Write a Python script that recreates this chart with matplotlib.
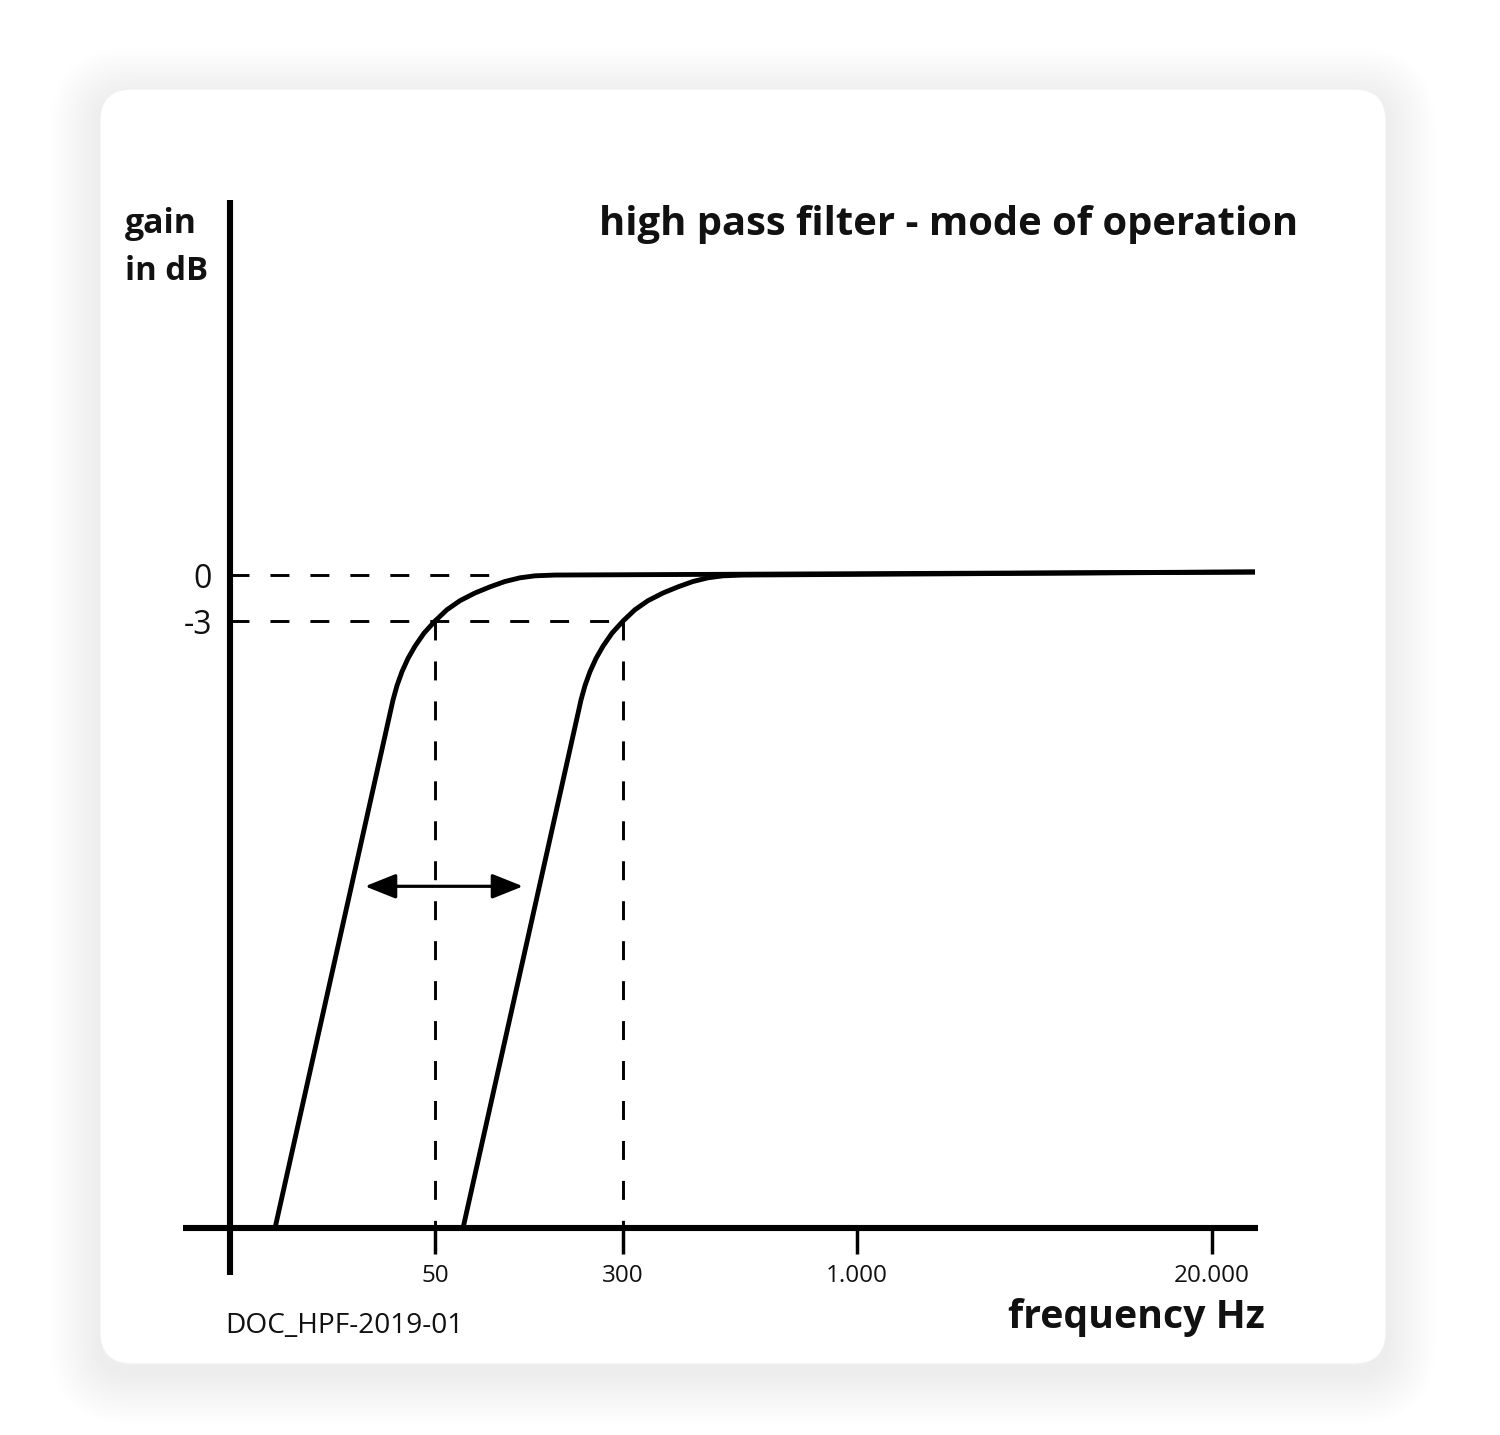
import matplotlib
matplotlib.use("Agg")
import matplotlib.pyplot as plt
from matplotlib.patches import FancyBboxPatch, FancyArrowPatch

plt.rcParams['font.family'] = ['Open Sans', 'DejaVu Sans']

# ---------------- data (schematic positions) ----------------
freq_labels = ["50", "300", "1.000", "20.000"]
freq_pos = [20.5, 39.3, 62.7, 98.2]
gain_ticks = [0, -3]
gain_labels = ["0", "-3"]
cutoff_pos = [20.5, 39.3]          # -3 dB points of the two curves
cutoff_gain = -3
zero_line_end = 26.0               # where the 0 dB guide meets the first curve
base_gain = -42.6                  # gain at the frequency axis

hpf50_x = [4.5, 16.3, 16.7, 17.2, 17.8, 18.5, 19.4, 20.5, 21.7, 23.0, 24.5,
           26.0, 27.5, 29.0, 30.5, 32.5, 102.5]
hpf50_y = [-42.6, -8.15, -7.21, -6.30, -5.44, -4.64, -3.79, -3.0, -2.26, -1.67, -1.17,
           -0.77, -0.42, -0.18, -0.05, 0.0, 0.2]
hpf300_x = [23.3, 35.1, 35.5, 36.0, 36.6, 37.3, 38.2, 39.3, 40.5, 41.8, 43.3,
            44.8, 46.3, 47.8, 49.3, 51.3, 102.5]
hpf300_y = [-42.6, -8.15, -7.21, -6.30, -5.44, -4.64, -3.79, -3.0, -2.26, -1.67, -1.17,
            -0.77, -0.42, -0.18, -0.05, 0.0, 0.2]

arrow_gain = -20.3
arrow_x = [13.5, 29.3]

title = "high pass filter - mode of operation"
ylabel_lines = ["gain", "in dB"]
xlabel = "frequency Hz"
doc_id = "DOC_HPF-2019-01"

# ---------------- figure ----------------
W, H = 1500, 1435
fig = plt.figure(figsize=(W / 100, H / 100), dpi=100)
fig.patch.set_facecolor("white")

bg = fig.add_axes([0, 0, 1, 1], zorder=0)
bg.set_xlim(0, W)
bg.set_ylim(H, 0)
bg.axis("off")

# card with soft shadow
cx0, cy0, cx1, cy1 = 100, 89, 1386, 1364
for i in range(18, 0, -1):
    d = i * 2.8
    sh = FancyBboxPatch((cx0 - d, cy0 - d + 9), (cx1 - cx0) + 2 * d, (cy1 - cy0) + 2 * d,
                        boxstyle="round,pad=0,rounding_size=%f" % (32 + d),
                        fc="black", ec="none", alpha=0.005)
    bg.add_patch(sh)
card = FancyBboxPatch((cx0, cy0), cx1 - cx0, cy1 - cy0,
                      boxstyle="round,pad=0,rounding_size=32",
                      fc="white", ec="#f0f0f0", lw=0.8)
bg.add_patch(card)

# main axes (pixel box 183..1258 x 200..1275)
ax = fig.add_axes([183 / W, (H - 1275) / H, 1075 / W, 1075 / H], zorder=2)
ax.patch.set_alpha(0)
ax.set_xlim(-4.7, 102.8)
ax.set_ylim(-45.65, 24.46)

for s in ("top", "right"):
    ax.spines[s].set_visible(False)
ax.spines["left"].set_position(("data", 0))
ax.spines["bottom"].set_position(("data", base_gain))
for s in ("left", "bottom"):
    ax.spines[s].set_linewidth(4.4)
    ax.spines[s].set_color("black")
    ax.spines[s].set_capstyle("butt")

ax.set_yticks(gain_ticks, gain_labels)
ax.tick_params(axis="y", direction="in", length=0, pad=13, labelsize=23,
               labelcolor="#111111")
ax.set_xticks(freq_pos, freq_labels)
ax.tick_params(axis="x", direction="out", length=19, width=2.5, pad=7, labelsize=17.5,
               color="black", labelcolor="#111111")

dlw = 2.1
dash = (0, (6.5, 7.2))
ax.plot([0, zero_line_end], [0, 0], color="black", lw=dlw, ls=dash, zorder=2)
ax.plot([0, cutoff_pos[1]], [cutoff_gain, cutoff_gain], color="black", lw=dlw, ls=dash, zorder=2)
for xc in cutoff_pos:
    ax.plot([xc, xc], [cutoff_gain, base_gain], color="black", lw=dlw, ls=dash, zorder=2)

for xs, ys in ((hpf50_x, hpf50_y), (hpf300_x, hpf300_y)):
    ax.plot(xs, ys, color="black", lw=3.5, solid_joinstyle="round",
            solid_capstyle="butt", zorder=3)

arr = FancyArrowPatch((arrow_x[0], arrow_gain), (arrow_x[1], arrow_gain),
                      arrowstyle="<|-|>,head_length=0.95,head_width=0.38",
                      mutation_scale=20, lw=2.3, color="black", zorder=4,
                      shrinkA=0, shrinkB=0)
ax.add_patch(arr)

# ---------------- texts ----------------
renderer = fig.canvas.get_renderer()


def fit_text(x, y, s, width_px, ha, size, weight, color="#111111"):
    t = bg.text(x, y, s, ha=ha, va="baseline", fontsize=size, fontweight=weight,
                color=color, zorder=5)
    w = t.get_window_extent(renderer).width
    t.set_fontsize(size * width_px / w)
    return t


fit_text(1298, 235, title, 701, "right", 26, "bold")
fit_text(125, 233, ylabel_lines[0], 72, "left", 22, "bold")
fit_text(125, 280, ylabel_lines[1], 83, "left", 22, "bold")
fit_text(1265, 1328, xlabel, 257, "right", 25, "bold")
fit_text(225, 1333, doc_id, 238, "left", 19, "normal")

fig.savefig("out.png", dpi=100, facecolor="white")
